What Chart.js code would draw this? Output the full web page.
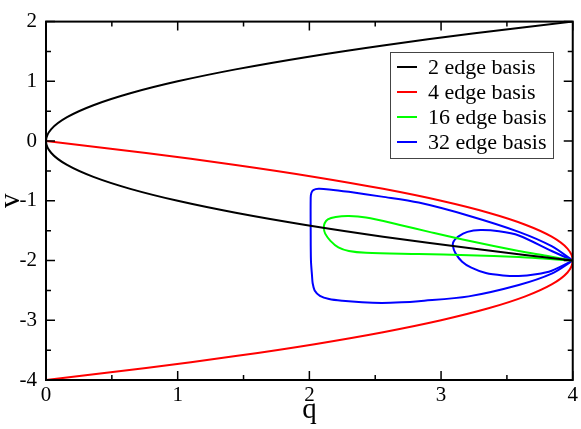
<!DOCTYPE html>
<html>
<head>
<meta charset="utf-8">
<title>edge basis</title>
<script src="https://cdn.jsdelivr.net/npm/chart.js@4.4.1/dist/chart.umd.min.js"></script>
<style>
  html, body { margin: 0; padding: 0; background: #fff; }
</style>
</head>
<body>
<canvas id="chart" width="581" height="429"></canvas>
<script>
// axis ranges / ticks
const qMin = 0, qMax = 4;
const vMin = -4, vMax = 2;

// values (q on x, v on y)
const edge2Q = [4, 3.24, 2.56, 1.96, 1.44, 1.0, 0.64, 0.36, 0.16, 0.04, 0, 0.04, 0.16, 0.36, 0.64, 1.0, 1.44, 1.96, 2.56, 3.24, 4];
const edge2V = [2, 1.8, 1.6, 1.4, 1.2, 1.0, 0.8, 0.6, 0.4, 0.2, 0, -0.2, -0.4, -0.6, -0.8, -1.0, -1.2, -1.4, -1.6, -1.8, -2];

const edge4Q = [0, 0.76, 1.44, 2.04, 2.56, 3.0, 3.36, 3.64, 3.84, 3.96, 4, 3.96, 3.84, 3.64, 3.36, 3.0, 2.56, 2.04, 1.44, 0.76, 0];
const edge4V = [0, -0.2, -0.4, -0.6, -0.8, -1.0, -1.2, -1.4, -1.6, -1.8, -2, -2.2, -2.4, -2.6, -2.8, -3.0, -3.2, -3.4, -3.6, -3.8, -4];

const edge16Q = [4, 3.8, 3.59, 3.21, 2.91, 2.68, 2.43, 2.3, 2.2, 2.14, 2.115, 2.11, 2.12, 2.16, 2.22, 2.3, 2.43, 2.83, 3.21, 3.59, 3.8, 4];
const edge16V = [-2, -1.92, -1.84, -1.67, -1.52, -1.40, -1.28, -1.255, -1.27, -1.31, -1.38, -1.46, -1.55, -1.67, -1.78, -1.84, -1.87, -1.89, -1.91, -1.94, -1.97, -2];

// 32 edge basis: outer loop and inner loop
const edge32OuterQ = [4, 3.84, 3.59, 3.21, 2.83, 2.55, 2.3, 2.15, 2.07, 2.03, 2.015, 2.01, 2.01, 2.012, 2.02, 2.025, 2.04, 2.08, 2.15, 2.25, 2.4, 2.55, 2.7, 2.83, 3.21, 3.59, 3.84, 4];
const edge32OuterV = [-2, -1.76, -1.52, -1.25, -1.03, -0.93, -0.85, -0.81, -0.80, -0.82, -0.87, -0.95, -1.5, -2.0, -2.25, -2.38, -2.5, -2.59, -2.645, -2.675, -2.70, -2.71, -2.70, -2.68, -2.60, -2.41, -2.22, -2];
const edge32InnerQ = [4, 3.84, 3.59, 3.44, 3.3, 3.2, 3.13, 3.095, 3.09, 3.11, 3.16, 3.23, 3.34, 3.47, 3.59, 3.72, 3.84, 4];
const edge32InnerV = [-2, -1.84, -1.58, -1.51, -1.49, -1.52, -1.6, -1.68, -1.76, -1.88, -2.02, -2.12, -2.21, -2.25, -2.26, -2.23, -2.17, -2];

const legendLabels = ['2 edge basis', '4 edge basis', '16 edge basis', '32 edge basis'];
const legendColors = ['#000000', '#ff0000', '#00ff00', '#0000ff'];

const serif = '"Liberation Serif", "DejaVu Serif", serif';

function pts(qs, vs) {
  return qs.map((q, i) => ({ x: q, y: vs[i] }));
}

function curve(label, qs, vs, color) {
  return {
    label: label,
    data: pts(qs, vs),
    showLine: true,
    borderColor: color,
    backgroundColor: color,
    borderWidth: 2,
    pointRadius: 0,
    tension: 0.3,
    fill: false
  };
}

// frame with inward major/minor ticks on all four sides
const frameTicks = {
  id: 'frameTicks',
  afterDatasetsDraw(chart) {
    const { ctx, chartArea: a, scales: { x, y } } = chart;
    ctx.save();
    ctx.strokeStyle = '#000';
    ctx.lineWidth = 1.5;
    ctx.beginPath();
    for (let q = qMin; q <= qMax + 1e-9; q += 0.5) {
      const px = x.getPixelForValue(q);
      const len = Number.isInteger(q) ? 9 : 5;
      ctx.moveTo(px, a.bottom); ctx.lineTo(px, a.bottom - len);
      ctx.moveTo(px, a.top); ctx.lineTo(px, a.top + len);
    }
    for (let v = vMin; v <= vMax + 1e-9; v += 0.5) {
      const py = y.getPixelForValue(v);
      const len = Number.isInteger(v) ? 9 : 5;
      ctx.moveTo(a.left, py); ctx.lineTo(a.left + len, py);
      ctx.moveTo(a.right, py); ctx.lineTo(a.right - len, py);
    }
    ctx.stroke();
    ctx.lineWidth = 2;
    ctx.strokeRect(a.left, a.top, a.right - a.left, a.bottom - a.top);
    ctx.restore();
  }
};

// boxed legend in the upper right of the plot
const boxLegend = {
  id: 'boxLegend',
  afterDraw(chart) {
    const ctx = chart.ctx;
    const left = 390, top = 52, w = 163, h = 106;
    ctx.save();
    ctx.fillStyle = '#fff';
    ctx.fillRect(left, top, w, h);
    ctx.strokeStyle = '#444';
    ctx.lineWidth = 1;
    ctx.strokeRect(left + 0.5, top + 0.5, w, h);
    ctx.font = '22px ' + serif;
    ctx.textBaseline = 'middle';
    legendLabels.forEach((label, i) => {
      const yy = top + 15 + i * 25;
      ctx.strokeStyle = legendColors[i];
      ctx.lineWidth = 2;
      ctx.beginPath();
      ctx.moveTo(left + 7, yy);
      ctx.lineTo(left + 27, yy);
      ctx.stroke();
      ctx.fillStyle = '#000';
      ctx.fillText(label, left + 38, yy + 1);
    });
    ctx.restore();
  }
};

new Chart(document.getElementById('chart'), {
  type: 'scatter',
  data: {
    datasets: [
      curve(legendLabels[0], edge2Q, edge2V, legendColors[0]),
      curve(legendLabels[1], edge4Q, edge4V, legendColors[1]),
      curve(legendLabels[2], edge16Q, edge16V, legendColors[2]),
      curve(legendLabels[3], edge32OuterQ, edge32OuterV, legendColors[3]),
      curve(legendLabels[3], edge32InnerQ, edge32InnerV, legendColors[3])
    ]
  },
  options: {
    responsive: false,
    animation: false,
    devicePixelRatio: 1,
    layout: { padding: { top: 9, right: 7, left: 0, bottom: 0 } },
    plugins: {
      legend: { display: false },
      tooltip: { enabled: false }
    },
    scales: {
      x: {
        type: 'linear',
        min: qMin,
        max: qMax,
        afterFit(scale) { scale.height = 49; },
        grid: { display: false, drawTicks: false },
        border: { display: false },
        ticks: { stepSize: 1, color: '#000', padding: 3, font: { family: serif, size: 21 } },
        title: { display: true, text: 'q', color: '#000', font: { family: serif, size: 29 }, padding: { top: 0, bottom: 1 } }
      },
      y: {
        type: 'linear',
        min: vMin,
        max: vMax,
        afterFit(scale) { scale.width = 46; },
        grid: { display: false, drawTicks: false },
        border: { display: false },
        ticks: { stepSize: 1, color: '#000', padding: 9, font: { family: serif, size: 21 } },
        title: { display: true, text: 'v', color: '#000', font: { family: serif, size: 29 }, padding: { top: -6, bottom: 0 } }
      }
    }
  },
  plugins: [frameTicks, boxLegend]
});
</script>
</body>
</html>
